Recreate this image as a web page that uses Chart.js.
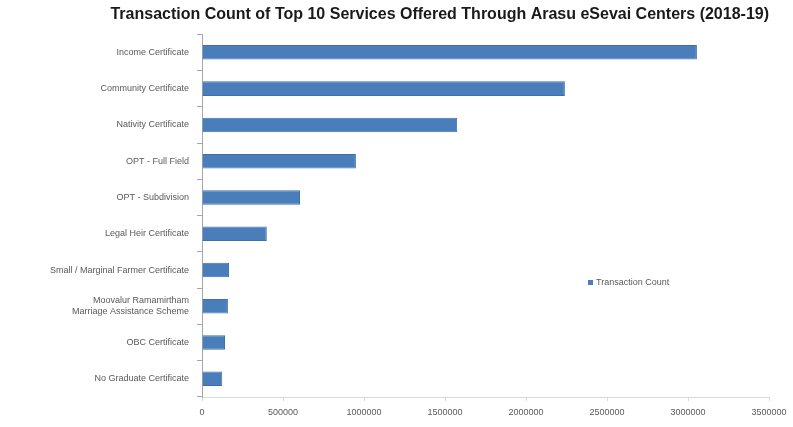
<!DOCTYPE html>
<html>
<head>
<meta charset="utf-8">
<script src="https://cdn.jsdelivr.net/npm/chart.js@4/dist/chart.umd.min.js"></script>
<style>
  body { margin: 0; background: #fff; }
  #wrap { position: relative; width: 793px; height: 427px; }
  #legend { position: absolute; left: 588px; top: 277px; font: 9px "Liberation Sans Narrow", "Liberation Sans", sans-serif; color: #595959; }
  #legend span { display: inline-block; width: 5px; height: 5px; background: #4a7ebb; margin-right: 3px; }
</style>
</head>
<body>
<div id="wrap">
  <canvas id="chart" width="793" height="427"></canvas>
  <div id="legend"><span></span>Transaction Count</div>
</div>
<script>
// Services and transaction counts
const services = [
    'Income Certificate',
    'Community Certificate',
    'Nativity Certificate',
    'OPT - Full Field',
    'OPT - Subdivision',
    'Legal Heir Certificate',
    'Small / Marginal Farmer Certificate',
    ['Moovalur Ramamirtham', 'Marriage Assistance Scheme'],
    'OBC Certificate',
    'No Graduate Certificate'
];
const transactionCount = [3055000, 2240000, 1575000, 950000, 605000, 400000, 167000, 160000, 142000, 125000];
const xTicks = [0, 500000, 1000000, 1500000, 2000000, 2500000, 3000000, 3500000];

const ctx = document.getElementById('chart').getContext('2d');
const chart = new Chart(ctx, {
    type: 'bar',
    data: {
        labels: services,
        datasets: [{
            label: 'Transaction Count',
            data: transactionCount,
            backgroundColor: '#4a7ebb',
            borderColor: '#3f6fa8',
            borderWidth: 1,
            barPercentage: 0.8,
            categoryPercentage: 0.5
        }]
    },
    options: {
        indexAxis: 'y',
        responsive: false,
        animation: false,
        layout: { padding: { left: 0, right: 24, top: 0, bottom: 0 } },
        scales: {
            x: {
                min: 0,
                max: 3500000,
                afterBuildTicks: function(scale) {
                    scale.ticks = xTicks.map(v => ({ value: v }));
                },
                afterFit: function(scale) { scale.height = 30; },
                grid: { drawOnChartArea: false, color: '#d9d9d9', tickLength: 4 },
                border: { color: '#d9d9d9' },
                ticks: {
                    color: '#595959',
                    font: { family: '"Liberation Sans Narrow", "Liberation Sans", sans-serif', size: 9 },
                    maxRotation: 0,
                    autoSkip: false,
                    padding: 6,
                    callback: function(value) { return String(value); }
                }
            },
            y: {
                afterFit: function(scale) { scale.width = 202; },
                grid: { drawOnChartArea: false, color: '#a6a6a6', tickLength: 5 },
                border: { color: '#a6a6a6' },
                ticks: {
                    color: '#595959',
                    font: { family: '"Liberation Sans Narrow", "Liberation Sans", sans-serif', size: 9 },
                    padding: 8
                }
            }
        },
        plugins: {
            legend: { display: false },
            tooltip: { enabled: false },
            title: {
                display: true,
                text: 'Transaction Count of Top 10 Services Offered Through Arasu eSevai Centers (2018-19)',
                color: '#1a1a1a',
                align: 'end',
                font: { family: '"Liberation Sans Narrow", "Liberation Sans", sans-serif', size: 16, weight: 'bold' },
                padding: { top: 5, bottom: 10 }
            }
        }
    }
});
</script>
</body>
</html>
